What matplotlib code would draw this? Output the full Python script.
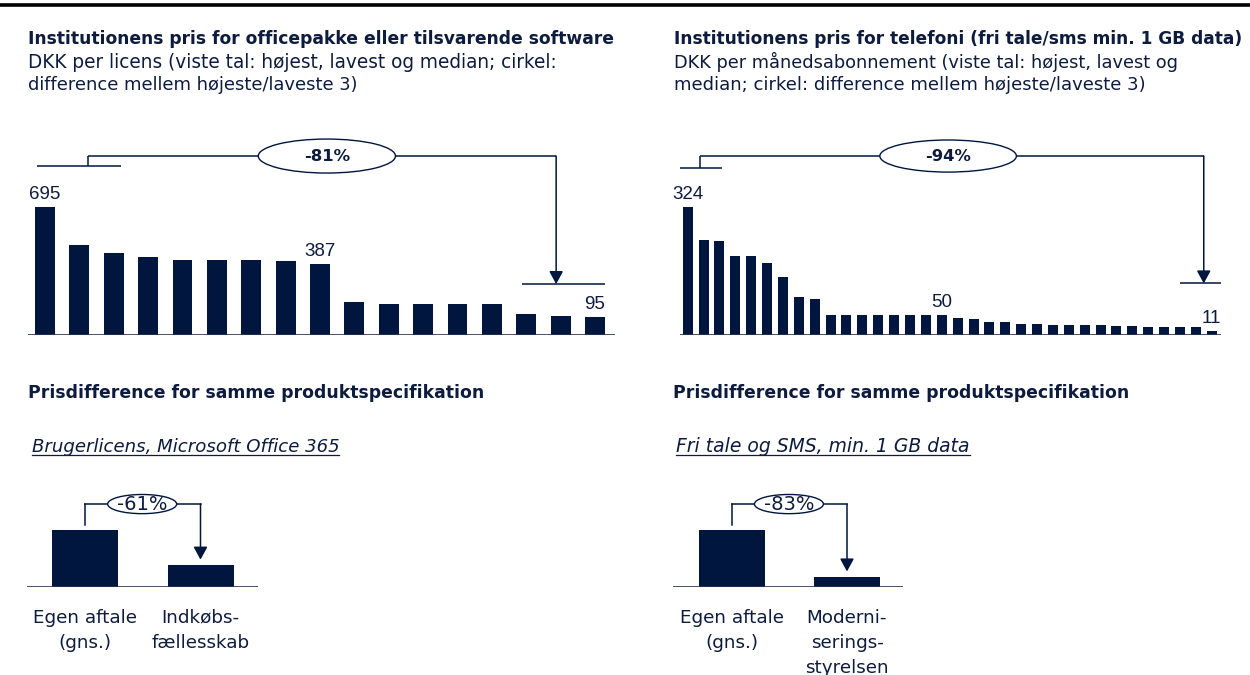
import matplotlib
matplotlib.use('Agg')
import matplotlib.pyplot as plt
from matplotlib.patches import Ellipse
from matplotlib.lines import Line2D

plt.rcParams['font.family'] = ['DejaVu Sans']
NUMFONT = ['Liberation Sans', 'DejaVu Sans']

W, H, DPI = 1250, 675, 100
NAVY = '#00163F'
INK = '#0D1B3E'
BASE = '#2A3352'

# ---------------- data ----------------
office_title = 'Institutionens pris for officepakke eller tilsvarende software'
office_sub = ['DKK per licens (viste tal: højest, lavest og median; cirkel:',
              'difference mellem højeste/laveste 3)']
office_prices = [695, 487, 442, 421, 408, 408, 408, 401, 387, 181, 168, 168, 168, 168, 116, 101, 95]
office_shown = [0, 8, 16]
office_diff = '-81%'

phone_title = 'Institutionens pris for telefoni (fri tale/sms min. 1 GB data)'
phone_sub = ['DKK per månedsabonnement (viste tal: højest, lavest og',
             'median; cirkel: difference mellem højeste/laveste 3)']
phone_prices = [324, 240, 237, 199, 199, 181, 147, 97, 90,
                50, 50, 50, 50, 50, 50, 50, 50,
                44, 40, 34, 34, 29, 29, 25, 25, 25, 25, 22, 22, 19, 19, 19, 19, 11]
phone_shown = [0, 16, 33]
phone_diff = '-94%'

section_title = 'Prisdifference for samme produktspecifikation'
office_spec = 'Brugerlicens, Microsoft Office 365'
phone_spec = 'Fri tale og SMS, min. 1 GB data'

office_same_cats = ['Egen aftale\n(gns.)', 'Indkøbs-\nfællesskab']
office_same_vals = [100, 39]
office_same_diff = '-61%'

phone_same_cats = ['Egen aftale\n(gns.)', 'Moderni-\nserings-\nstyrelsen']
phone_same_vals = [100, 18]
phone_same_diff = '-83%'

# ---------------- figure ----------------
fig = plt.figure(figsize=(W / DPI, H / DPI), dpi=DPI)
fig.patch.set_facecolor('white')
renderer = fig.canvas.get_renderer()


def fx(px):
    return px / W


def fy(py):
    return 1 - py / H


def fit(t, target_px):
    w = t.get_window_extent(renderer=renderer).width
    t.set_fontsize(t.get_fontsize() * target_px / w)
    return t


def px_axes(x0, y0, x1, y1):
    ax = fig.add_axes([fx(x0), fy(y1), (x1 - x0) / W, (y1 - y0) / H])
    ax.set_axis_off()
    return ax


# top rule
fig.add_artist(Line2D([0, 1], [fy(5), fy(5)], color='black', lw=2.6))


def header(x, title, sub, title_w, sub_w):
    t = fig.text(fx(x), fy(44), title, fontsize=12, fontweight='bold', color=INK, va='baseline')
    fit(t, title_w)
    for k, line in enumerate(sub):
        s = fig.text(fx(x), fy(68.5 + 22 * k), line, fontsize=12, color=INK, va='baseline')
        fit(s, sub_w[k])


header(28.5, office_title, office_sub, 584, [529, 327])
header(674, phone_title, phone_sub, 566, [503, 469])


def ranked_chart(x0, x1, c0, c1, values, shown, diff, bw,
                 top3, vert_x, low_y, ell_cx, ell_w, ell_h, arrow_x, tip_y, bot3):
    n = len(values)
    pitch = (c1 - c0) / (n - 1)
    ymax = max(values)
    ax = px_axes(x0, 130, x1, 335)
    ax.set_xlim((x0 - c0) / pitch, (x1 - c0) / pitch)
    ax.set_ylim(0, 1.598 * ymax)
    xs = list(range(n))
    ax.bar(xs, values, width=bw, color=NAVY, edgecolor='none', zorder=2)
    ax.axhline(0, color=BASE, lw=1.2, zorder=3)
    for i in shown:
        ax.annotate(f'{values[i]}', (i, values[i]), xytext=(0, 5.8), textcoords='offset points',
                    ha='center', va='baseline', fontsize=13.5, color=INK, family=NUMFONT)
    hi_y = 1.395 * ymax
    lo_y = low_y * ymax
    kw = dict(color=NAVY, lw=1.1, solid_capstyle='butt', zorder=4)
    ax.plot(top3, [lo_y, lo_y], **kw)
    ax.plot([vert_x, vert_x], [lo_y, hi_y], **kw)
    ax.plot([vert_x, arrow_x], [hi_y, hi_y], **kw)
    ax.annotate('', xy=(arrow_x, tip_y * ymax), xytext=(arrow_x, hi_y),
                arrowprops=dict(arrowstyle='-|>,head_length=0.55,head_width=0.3',
                                color=NAVY, lw=1.1, shrinkA=0, shrinkB=0, mutation_scale=14),
                zorder=4)
    ax.plot(bot3, [tip_y * ymax, tip_y * ymax], **kw)
    ax.add_patch(Ellipse((ell_cx, hi_y), ell_w, ell_h * ymax, facecolor='white',
                         edgecolor=NAVY, lw=1.0, zorder=5, clip_on=False))
    t = ax.text(ell_cx, hi_y, diff, ha='center', va='center', fontsize=12,
                fontweight='bold', color=INK, zorder=6)
    fit(t, 46)
    return ax


ranked_chart(27.7, 615, 45, 595, office_prices, office_shown, office_diff, 0.58,
             top3=[-0.22, 2.2], vert_x=1.24, low_y=1.317, ell_cx=8.2, ell_w=3.99,
             ell_h=0.265, arrow_x=14.87, tip_y=0.397, bot3=[13.88, 16.29])
ranked_chart(680, 1221, 687.7, 1211.7, phone_prices, phone_shown, phone_diff, 0.63,
             top3=[-0.55, 2.16], vert_x=0.8, low_y=1.30, ell_cx=16.4, ell_w=8.6,
             ell_h=0.25, arrow_x=32.5, tip_y=0.402, bot3=[31.0, 33.58])


def spec_block(x, spec, spec_w):
    h = fig.text(fx(x), fy(398), section_title, fontsize=12, fontweight='bold', color=INK,
                 va='baseline')
    fit(h, 455)
    t = fig.text(fx(x + 3), fy(452), spec, fontsize=12, style='italic', color=INK,
                 va='baseline')
    fit(t, spec_w)
    bb = t.get_window_extent(renderer=renderer)
    yline = fy(455)
    fig.add_artist(Line2D([bb.x0 / W, bb.x1 / W], [yline, yline], color=INK, lw=0.9))


spec_block(28.5, office_spec, 307)
spec_block(673, phone_spec, 292)


def compare_chart(x0, x1, c0, c1, cats, vals, diff):
    pitch = c1 - c0
    ax = px_axes(x0, 470, x1, 586.7)
    ax.set_xlim((x0 - c0) / pitch, (x1 - c0) / pitch)
    ax.set_ylim(0, 116.7 / 0.564)
    ax.bar([0, 1], vals, width=66 / pitch, color=NAVY, edgecolor='none', zorder=2)
    ax.axhline(0, color=BASE, lw=1.2, zorder=3)
    top = 146.5
    kw = dict(color=NAVY, lw=1.1, zorder=4)
    ax.plot([0, 0], [vals[0] + 9, top], **kw)
    ax.plot([0, 1], [top, top], **kw)
    ax.annotate('', xy=(1, vals[1] + 9), xytext=(1, top),
                arrowprops=dict(arrowstyle='-|>,head_length=0.55,head_width=0.3',
                                color=NAVY, lw=1.1, shrinkA=0, shrinkB=0, mutation_scale=14),
                zorder=4)
    ax.add_patch(Ellipse((0.495, top), 69 / pitch, 34, facecolor='white', edgecolor=NAVY,
                         lw=1.0, zorder=5, clip_on=False))
    t = ax.text(0.495, top, diff, ha='center', va='center', fontsize=12, color=INK, zorder=6)
    fit(t, 50)
    probe = ax.text(0, 0, 'Egen aftale', fontsize=12)
    size = fit(probe, 104).get_fontsize()
    probe.remove()
    for i, lab in enumerate(cats):
        for k, line in enumerate(lab.split('\n')):
            ax.annotate(line, (i, 0), xytext=(0, -26 - 18 * k), textcoords='offset points',
                        ha='center', va='baseline', fontsize=size, color=INK,
                        annotation_clip=False)
    return ax


compare_chart(27, 258, 85, 200.5, office_same_cats, office_same_vals, office_same_diff)
compare_chart(673, 903, 732, 847, phone_same_cats, phone_same_vals, phone_same_diff)

fig.savefig('out.png', dpi=DPI, facecolor='white')
